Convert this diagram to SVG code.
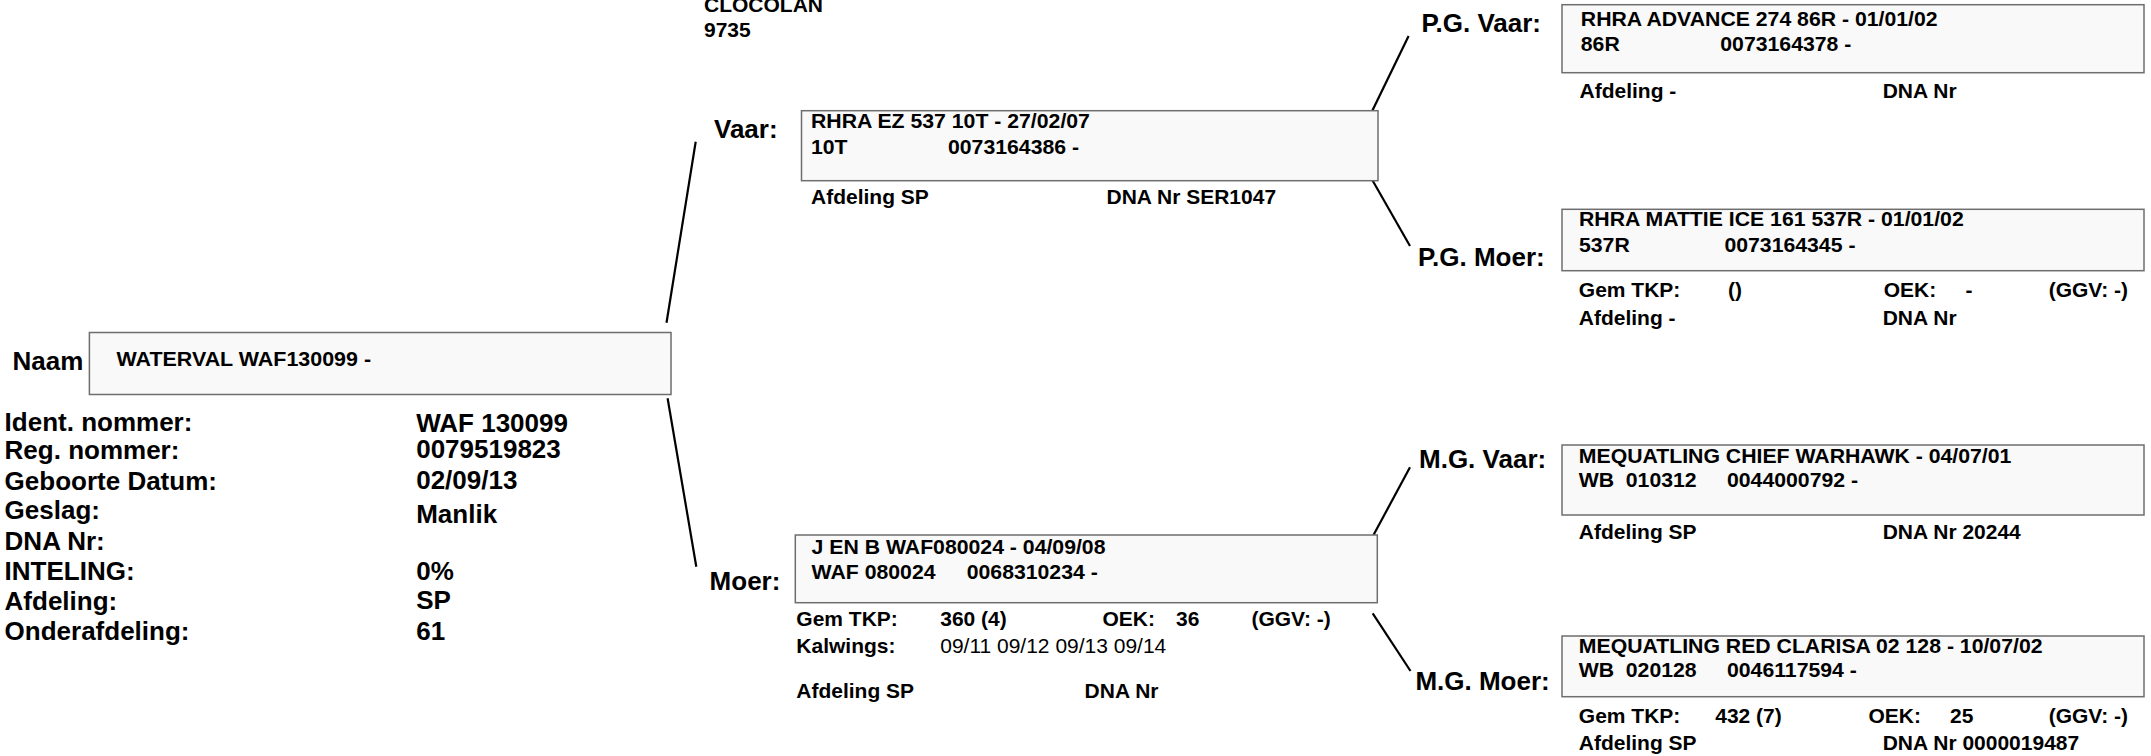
<svg xmlns="http://www.w3.org/2000/svg" width="2151" height="756" viewBox="0 0 2151 756">
<style>
text { fill: #000; font-family: "Liberation Sans", Arial, sans-serif; }
.lbl { font-size: 26px; font-weight: bold; }
.hd { font-size: 21px; font-weight: bold; }
.bt { font-size: 19.5px; font-weight: bold; }
.st { font-size: 20px; font-weight: bold; }
.sn { font-size: 20px; font-weight: normal; }
.box { fill: #f9f9f9; stroke: #6e6e6e; stroke-width: 1.5; }
.con line { stroke: #000; stroke-width: 2.2; stroke-linecap: butt; }
</style>

<g id="connectors" class="con">
  <line x1="666.5" y1="322.7" x2="695.7" y2="141.7"/>
  <line x1="667.6" y1="398.3" x2="696.3" y2="566.7"/>
  <line x1="1372.3" y1="110.7" x2="1408.6" y2="36"/>
  <line x1="1372.3" y1="180" x2="1410" y2="246"/>
  <line x1="1373.5" y1="535" x2="1410" y2="467.3"/>
  <line x1="1372.7" y1="613.3" x2="1410.5" y2="671"/>
</g>

<g id="address">
  <text class="hd" x="704" y="11.7">CLOCOLAN</text>
  <text class="hd" x="704" y="36.5">9735</text>
</g>

<g id="subject">
  <text class="lbl" x="12.6" y="370">Naam</text>
  <rect class="box" x="89.4" y="332.5" width="581.6" height="62"/>
  <text class="bt" transform="translate(116.5,365.7) scale(1.1,1)">WATERVAL WAF130099 -</text>
</g>

<g id="subject-info">
  <text class="lbl" x="4.6" y="431">Ident. nommer:</text>
  <text class="lbl" x="4.6" y="459">Reg. nommer:</text>
  <text class="lbl" x="4.6" y="490">Geboorte Datum:</text>
  <text class="lbl" x="4.6" y="519">Geslag:</text>
  <text class="lbl" x="4.6" y="550">DNA Nr:</text>
  <text class="lbl" x="4.6" y="580">INTELING:</text>
  <text class="lbl" x="4.6" y="610">Afdeling:</text>
  <text class="lbl" x="4.6" y="640">Onderafdeling:</text>
  <text class="lbl" x="416.2" y="432">WAF 130099</text>
  <text class="lbl" x="416.2" y="458">0079519823</text>
  <text class="lbl" x="416.2" y="489">02/09/13</text>
  <text class="lbl" x="416.2" y="523">Manlik</text>
  <text class="lbl" x="416.2" y="580">0%</text>
  <text class="lbl" x="416.2" y="609">SP</text>
  <text class="lbl" x="416.2" y="640">61</text>
</g>

<g id="vaar">
  <text class="lbl" x="714" y="137.5">Vaar:</text>
  <rect class="box" x="801.5" y="110.7" width="576.5" height="70"/>
  <text class="bt" transform="translate(811,127.7) scale(1.09,1)">RHRA EZ 537 10T - 27/02/07</text>
  <text class="bt" transform="translate(811,153.5) scale(1.09,1)">10T</text>
  <text class="bt" transform="translate(948,153.5) scale(1.09,1)">0073164386 -</text>
  <text class="st" transform="translate(811,204) scale(1.05,1)">Afdeling SP</text>
  <text class="st" transform="translate(1106.5,204) scale(1.05,1)">DNA Nr SER1047</text>
</g>

<g id="moer">
  <text class="lbl" x="709.6" y="590">Moer:</text>
  <rect class="box" x="795.3" y="535" width="582" height="67.7"/>
  <text class="bt" transform="translate(811.6,554) scale(1.09,1)">J EN B WAF080024 - 04/09/08</text>
  <text class="bt" transform="translate(811.6,579.3) scale(1.09,1)">WAF 080024</text>
  <text class="bt" transform="translate(966.7,579.3) scale(1.09,1)">0068310234 -</text>
  <text class="st" transform="translate(796.3,626) scale(1.05,1)">Gem TKP:</text>
  <text class="st" transform="translate(940.2,626) scale(1.05,1)">360 (4)</text>
  <text class="st" transform="translate(1102.4,626) scale(1.05,1)">OEK:</text>
  <text class="st" transform="translate(1176,626) scale(1.05,1)">36</text>
  <text class="st" transform="translate(1251.4,626) scale(1.05,1)">(GGV: -)</text>
  <text class="st" transform="translate(796.3,653.3) scale(1.05,1)">Kalwings:</text>
  <text class="sn" transform="translate(940.2,653.3) scale(1.05,1)">09/11 09/12 09/13 09/14</text>
  <text class="st" transform="translate(796.3,698.3) scale(1.05,1)">Afdeling SP</text>
  <text class="st" transform="translate(1084.6,698.3) scale(1.05,1)">DNA Nr</text>
</g>

<g id="pg-vaar">
  <text class="lbl" x="1421.5" y="31.7">P.G. Vaar:</text>
  <rect class="box" x="1562" y="4.7" width="582" height="68"/>
  <text class="bt" transform="translate(1580.8,26) scale(1.09,1)">RHRA ADVANCE 274 86R - 01/01/02</text>
  <text class="bt" transform="translate(1580.8,51) scale(1.09,1)">86R</text>
  <text class="bt" transform="translate(1720.3,51) scale(1.09,1)">0073164378 -</text>
  <text class="st" transform="translate(1579.5,97.5) scale(1.05,1)">Afdeling -</text>
  <text class="st" transform="translate(1882.7,97.5) scale(1.05,1)">DNA Nr</text>
</g>

<g id="pg-moer">
  <text class="lbl" x="1418" y="266">P.G. Moer:</text>
  <rect class="box" x="1562" y="209.3" width="582" height="61.4"/>
  <text class="bt" transform="translate(1579,226) scale(1.09,1)">RHRA MATTIE ICE 161 537R - 01/01/02</text>
  <text class="bt" transform="translate(1579,251.5) scale(1.09,1)">537R</text>
  <text class="bt" transform="translate(1724.4,251.5) scale(1.09,1)">0073164345 -</text>
  <text class="st" transform="translate(1578.8,296.7) scale(1.05,1)">Gem TKP:</text>
  <text class="st" transform="translate(1728,296.7) scale(1.05,1)">()</text>
  <text class="st" transform="translate(1883.7,296.7) scale(1.05,1)">OEK:</text>
  <text class="st" transform="translate(1965.4,296.7) scale(1.05,1)">-</text>
  <text class="st" transform="translate(2048.7,296.7) scale(1.05,1)">(GGV: -)</text>
  <text class="st" transform="translate(1578.8,325) scale(1.05,1)">Afdeling -</text>
  <text class="st" transform="translate(1882.7,325) scale(1.05,1)">DNA Nr</text>
</g>

<g id="mg-vaar">
  <text class="lbl" x="1419" y="468.3">M.G. Vaar:</text>
  <rect class="box" x="1562" y="445" width="582" height="70"/>
  <text class="bt" transform="translate(1578.8,463.3) scale(1.09,1)">MEQUATLING CHIEF WARHAWK - 04/07/01</text>
  <text class="bt" transform="translate(1578.8,487.3) scale(1.09,1)">WB</text>
  <text class="bt" transform="translate(1625.8,487.3) scale(1.09,1)">010312</text>
  <text class="bt" transform="translate(1727,487.3) scale(1.09,1)">0044000792 -</text>
  <text class="st" transform="translate(1578.8,539.3) scale(1.05,1)">Afdeling SP</text>
  <text class="st" transform="translate(1882.7,539.3) scale(1.05,1)">DNA Nr 20244</text>
</g>

<g id="mg-moer">
  <text class="lbl" x="1415.4" y="690">M.G. Moer:</text>
  <rect class="box" x="1562" y="636" width="582" height="60.7"/>
  <text class="bt" transform="translate(1578.8,652.7) scale(1.09,1)">MEQUATLING RED CLARISA 02 128 - 10/07/02</text>
  <text class="bt" transform="translate(1578.8,677.3) scale(1.09,1)">WB</text>
  <text class="bt" transform="translate(1625.8,677.3) scale(1.09,1)">020128</text>
  <text class="bt" transform="translate(1727,677.3) scale(1.09,1)">0046117594 -</text>
  <text class="st" transform="translate(1578.8,723.3) scale(1.05,1)">Gem TKP:</text>
  <text class="st" transform="translate(1715.2,723.3) scale(1.05,1)">432 (7)</text>
  <text class="st" transform="translate(1868.4,723.3) scale(1.05,1)">OEK:</text>
  <text class="st" transform="translate(1950,723.3) scale(1.05,1)">25</text>
  <text class="st" transform="translate(2048.7,723.3) scale(1.05,1)">(GGV: -)</text>
  <text class="st" transform="translate(1578.8,750) scale(1.05,1)">Afdeling SP</text>
  <text class="st" transform="translate(1882.7,750) scale(1.05,1)">DNA Nr 0000019487</text>
</g>
</svg>
